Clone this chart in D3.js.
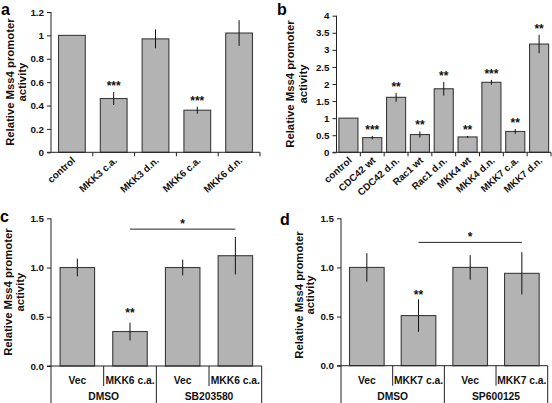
<!DOCTYPE html>
<html><head><meta charset="utf-8">
<script src="https://cdn.jsdelivr.net/npm/d3@7"></script>
<style>
html,body{margin:0;padding:0;background:#fff;}
svg{display:block;font-family:"Liberation Sans",Arial,sans-serif;font-weight:bold;}
</style></head>
<body>
<svg id="chart" width="552" height="403"></svg>
<script>
// ---- data ----
const aCategories = ["control","MKK3 c.a.","MKK3 d.n.","MKK6 c.a.","MKK6 d.n."];
const aValues = [1.0, 0.46, 0.97, 0.36, 1.02];
const aErrors = [0, 0.055, 0.08, 0.03, 0.11];
const aStars = ["", "***", "", "***", ""];
const aTicks = [0, 0.2, 0.4, 0.6, 0.8, 1, 1.2];

const bCategories = ["control","CDC42 wt","CDC42 d.n.","Rac1 wt","Rac1 d.n.","MKK4 wt","MKK4 d.n.","MKK7 c.a.","MKK7 d.n."];
const bValues = [1.0, 0.43, 1.61, 0.52, 1.86, 0.45, 2.05, 0.61, 3.17];
const bErrors = [0, 0.05, 0.13, 0.09, 0.2, 0.03, 0.07, 0.07, 0.27];
const bStars = ["", "***", "**", "**", "**", "**", "***", "**", "**"];
const bTicks = [0, 0.5, 1, 1.5, 2, 2.5, 3, 3.5, 4];

const cCategories = ["Vec","MKK6 c.a.","Vec ","MKK6 c.a. "];
const cGroups = ["DMSO","SB203580"];
const cValues = [1.0, 0.35, 1.0, 1.12];
const cErrors = [0.09, 0.09, 0.08, 0.19];
const cStars = ["", "**", "", ""];
const cBracket = {from: 1, to: 3, value: 1.39, label: "*"};

const dCategories = ["Vec","MKK7 c.a.","Vec ","MKK7 c.a. "];
const dGroups = ["DMSO","SP600125"];
const dValues = [1.0, 0.51, 1.0, 0.94];
const dErrors = [0.145, 0.165, 0.125, 0.215];
const dStars = ["", "**", "", ""];
const dBracket = {from: 1, to: 3, value: 1.255, label: "*"};
const cdTicks = [0, 0.5, 1.0, 1.5];

const svg = d3.select("#chart");
const BAR_FILL = "#b3b3b3", BAR_STROKE = "#3a3a3a", AX = "#222";

function panel(p) {
  const g = svg.append("g");
  const x = d3.scaleBand().domain(p.cats).range(p.xr).paddingInner(p.pad).paddingOuter(p.pad/2);
  const y = d3.scaleLinear().domain(p.yd).range(p.yr);
  const step = x.step();

  // y axis
  const yAxis = d3.axisLeft(y).tickValues(p.ticks).tickSize(4).tickPadding(3).tickFormat(p.fmt);
  const ya = g.append("g").attr("transform", `translate(${p.xr[0]},0)`).call(yAxis);
  ya.select(".domain").remove();
  ya.selectAll("line").attr("stroke", AX);
  ya.selectAll("text").attr("font-size", 9.8).attr("font-weight","bold").attr("fill","#111")
    .attr("font-family",'"Liberation Sans",Arial,sans-serif');
  const yBottom = p.table ? 403 : p.yr[0];
  g.append("line").attr("x1", p.xr[0]).attr("x2", p.xr[0]).attr("y1", p.yr[1]).attr("y2", yBottom).attr("stroke", AX);

  // bars
  p.cats.forEach((c, i) => {
    const v = p.vals[i], e = p.errs[i];
    g.append("rect").attr("x", x(c)).attr("width", x.bandwidth())
      .attr("y", y(v)).attr("height", y(0) - y(v))
      .attr("fill", BAR_FILL).attr("stroke", BAR_STROKE).attr("stroke-width", 1.1);
    if (e > 0) {
      g.append("line").attr("x1", x(c) + x.bandwidth()/2).attr("x2", x(c) + x.bandwidth()/2)
        .attr("y1", y(v + e)).attr("y2", y(v - e)).attr("stroke", "#111").attr("stroke-width", 1);
    }
    if (p.stars[i]) {
      g.append("text").attr("x", x(c) + x.bandwidth()/2).attr("y", y(v + e) - p.starOff)
        .attr("text-anchor", "middle").attr("font-size", 12).attr("fill", "#111").text(p.stars[i]);
    }
  });

  // x axis line
  g.append("line").attr("x1", p.xr[0] - 4).attr("x2", p.xr[1]).attr("y1", y(0)).attr("y2", y(0)).attr("stroke", AX);

  if (!p.table) {
    p.cats.forEach((c, i) => {
      const bx = x(c) - step * p.pad / 2 + step;
      g.append("line").attr("x1", bx).attr("x2", bx).attr("y1", y(0)).attr("y2", y(0) + 4).attr("stroke", AX);
    });
    p.cats.forEach((c) => {
      const cx = x(c) + x.bandwidth()/2 + p.lblDx;
      const cy = y(0) + p.lblDy;
      g.append("text").attr("transform", `translate(${cx},${cy}) rotate(-42)`)
        .attr("text-anchor", "end").attr("font-size", 9.8).attr("fill", "#111").text(c.trim());
    });
  } else {
    p.cats.forEach((c, i) => {
      const left = x(c) - step * p.pad / 2;
      const right = left + step;
      const full = (i % 2 === 1);
      g.append("line").attr("x1", right).attr("x2", right).attr("y1", y(0)).attr("y2", full ? 403 : y(0) + 20).attr("stroke", AX);
      g.append("text").attr("x", (left + right)/2).attr("y", y(0) + 18).attr("text-anchor", "middle")
        .attr("font-size", 10.3).attr("fill", "#111").text(c.trim());
    });
    p.groups.forEach((gr, j) => {
      const left = x(p.cats[2*j]) - step * p.pad / 2;
      g.append("text").attr("x", left + step).attr("y", y(0) + 34).attr("text-anchor", "middle")
        .attr("font-size", 10.3).attr("fill", "#111").text(gr);
    });
    const br = p.bracket;
    const x1 = x(p.cats[br.from]) + x.bandwidth()/2, x2 = x(p.cats[br.to]) + x.bandwidth()/2;
    g.append("line").attr("x1", x1).attr("x2", x2).attr("y1", y(br.value)).attr("y2", y(br.value)).attr("stroke", "#222");
    g.append("text").attr("x", (x1 + x2)/2).attr("y", y(br.value) - 1).attr("text-anchor", "middle")
      .attr("font-size", 12).attr("fill", "#111").text(br.label);
  }

  // y title
  const midY = (p.yr[0] + p.yr[1]) / 2 + (p.titleDy || 0);
  [["Relative Mss4 promoter", p.t1], ["activity", p.t2]].forEach(([t, tx]) => {
    g.append("text").attr("transform", `translate(${tx},${midY}) rotate(-90)`)
      .attr("text-anchor", "middle").attr("font-size", 11.3).attr("fill", "#111").text(t);
  });
  // panel letter
  g.append("text").attr("x", p.lx).attr("y", p.ly).attr("font-size", 16).attr("fill", "#000").text(p.letter);
}

panel({cats: aCategories, vals: aValues, errs: aErrors, stars: aStars, ticks: aTicks, fmt: d => String(d),
  xr: [51, 260], pad: 0.36, yd: [0, 1.2], yr: [152.3, 12], starOff: 2, lblDx: 4, lblDy: 9,
  t1: 14, t2: 26, letter: "a", lx: 1, ly: 14.5});
panel({cats: bCategories, vals: bValues, errs: bErrors, stars: bStars, ticks: bTicks, fmt: d => String(d),
  xr: [336.5, 551], pad: 0.2, yd: [0, 4], yr: [152.3, 15.7], starOff: 2, lblDx: 4, lblDy: 9,
  t1: 294, t2: 307, letter: "b", lx: 277, ly: 14.5});
panel({cats: cCategories, vals: cValues, errs: cErrors, stars: cStars, ticks: cdTicks, fmt: d3.format(".1f"),
  xr: [51, 261.7], pad: 0.345, yd: [0, 1.5], yr: [366, 218.3], starOff: 6, table: true, groups: cGroups, bracket: cBracket,
  t1: 11.5, t2: 23.5, letter: "c", lx: 0, ly: 222});
panel({cats: dCategories, vals: dValues, errs: dErrors, stars: dStars, ticks: cdTicks, fmt: d3.format(".1f"),
  xr: [341, 547.7], pad: 0.33, yd: [0, 1.5], yr: [365.7, 218.3], starOff: 0, table: true, groups: dGroups, bracket: dBracket,
  t1: 302.5, t2: 313.5, titleDy: 3, letter: "d", lx: 280, ly: 225});
</script>
</body></html>
